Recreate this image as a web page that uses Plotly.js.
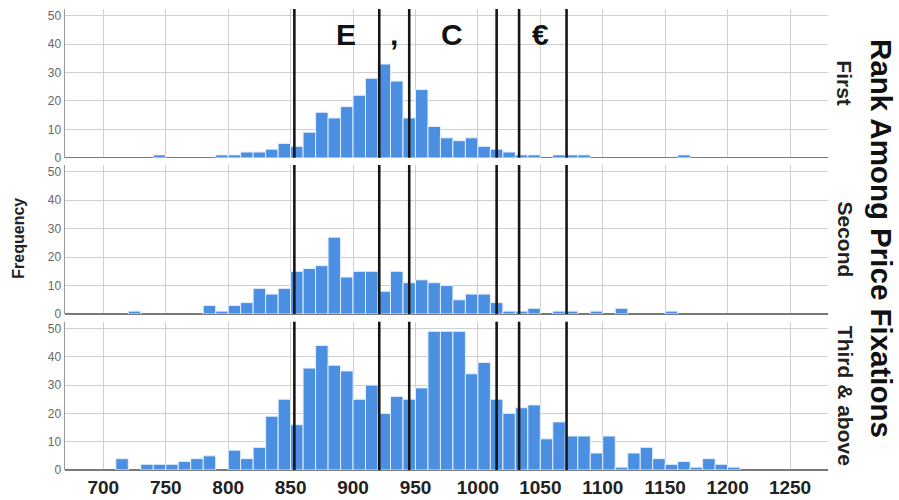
<!DOCTYPE html>
<html>
<head>
<meta charset="utf-8">
<script src="https://cdn.plot.ly/plotly-3.0.1.min.js"></script>
<style>html,body{margin:0;padding:0;background:#fff;}#chart{width:899px;height:500px;}</style>
</head>
<body>
<div id="chart"></div>
<script>
// Histogram bin lower edges (width 10)
const binStarts = [700,710,720,730,740,750,760,770,780,790,
  800,810,820,830,840,850,860,870,880,890,
  900,910,920,930,940,950,960,970,980,990,
  1000,1010,1020,1030,1040,1050,1060,1070,1080,1090,
  1100,1110,1120,1130,1140,1150,1160,1170,1180,1190,
  1200,1210];
const binWidth = 10;

// Frequencies per panel
const firstCounts = [0,0,0,0,1,0,0,0,0,1,
  1,2,2,3,5,4,9,16,14,18,
  22,28,33,27,14,24,11,7,6,7,
  4,3,2,1,1,0,1,1,1,0,
  0,0,0,0,0,0,1,0,0,0,
  0,0];
const secondCounts = [0,0,1,0,0,0,0,0,3,1,
  3,4,9,7,9,15,16,17,27,13,
  15,15,8,15,11,12,11,10,5,7,
  7,4,1,1,2,0,1,1,0,1,
  0,2,0,0,0,1,0,0,0,0,
  0,0];
const thirdCounts = [0,4,0,2,2,2,3,4,5,0,
  7,4,8,19,25,16,36,44,37,35,
  25,30,20,26,25,29,49,49,49,34,
  38,25,20,22,23,11,17,12,12,6,
  12,1,6,8,4,2,3,1,4,2,
  1,0];

const panelNames = ["First", "Second", "Third & above"];
const xTickVals = [700,750,800,850,900,950,1000,1050,1100,1150,1200,1250];
const yTickVals = [0,10,20,30,40,50];

// Reference lines (price character boundaries) and the characters between them
const boundaryLines = [853, 921, 945, 1015, 1033, 1071];
const letters = ["E", ",", "C", "€"];
const letterPos = [894, 933, 979, 1050];

const FONT = "Liberation Sans, Arial, sans-serif";
const barColor = "#4b8fe2";
const allCounts = [firstCounts, secondCounts, thirdCounts];
const domains = [[0.6774, 1], [0.3384, 0.6616], [0, 0.3217]];
const axIds = ["", "2", "3"];

const centers = binStarts.map(b => b + binWidth / 2);

const traces = allCounts.map((counts, i) => ({
  type: "bar",
  x: centers,
  y: counts.map(c => (c === 0 ? null : c)),
  width: binStarts.map(() => binWidth),
  xaxis: "x" + axIds[i],
  yaxis: "y" + axIds[i],
  marker: {color: barColor, line: {color: "rgba(230,240,252,0.95)", width: 1}},
  hoverinfo: "x+y",
  showlegend: false
}));

const layout = {
  width: 899, height: 500,
  margin: {l: 65, r: 71, t: 9, b: 30},
  paper_bgcolor: "#fff", plot_bgcolor: "#fff",
  bargap: 0,
  font: {family: FONT, color: "#222"},
  shapes: [],
  annotations: []
};

for (let i = 0; i < 3; i++) {
  const id = axIds[i];
  layout["xaxis" + id] = {
    anchor: "y" + id,
    domain: [0, 1],
    range: [669.3, 1280.4],
    tickvals: xTickVals,
    ticktext: xTickVals.map(String),
    showticklabels: i === 2,
    ticks: "",
    ticklabelstandoff: 4,
    showgrid: true, gridcolor: "#cfcfcf", gridwidth: 1,
    zeroline: false,
    showline: false,
    tickfont: {family: FONT, size: 19, color: "#222", weight: "bold"},
    matches: i === 0 ? undefined : "x"
  };
  layout["yaxis" + id] = {
    anchor: "x" + id,
    domain: domains[i],
    range: [0, 52.4],
    tickvals: yTickVals,
    ticks: "",
    showgrid: true, gridcolor: "#cfcfcf", gridwidth: 1,
    zeroline: true, zerolinecolor: "#7a7a7a", zerolinewidth: 1.5,
    showline: true, linecolor: "#9a9a9a", linewidth: 1.5,
    tickfont: {family: FONT, size: 12, color: "#666"}
  };
  boundaryLines.forEach(v => {
    layout.shapes.push({
      type: "line", xref: "x" + id, yref: "y" + id + " domain",
      x0: v, x1: v, y0: 0, y1: 1,
      line: {color: "#161616", width: 2.6}, layer: "above"
    });
  });
  layout.annotations.push({
    text: panelNames[i], textangle: 90,
    xref: "paper", x: 1.0223, xanchor: "center",
    yref: "y" + id + " domain", y: 0.5, yanchor: "middle",
    showarrow: false,
    font: {family: FONT, size: 21, color: "#222", weight: "bold"}
  });
}

letters.forEach((t, k) => {
  layout.annotations.push({
    text: t, xref: "x", x: letterPos[k], xanchor: "center",
    yref: "y domain", y: 0.83, yanchor: "middle",
    showarrow: false,
    font: {family: FONT, size: 30, color: "#111", weight: "bold"}
  });
});

layout.annotations.push({
  text: "Rank Among Price Fixations", textangle: 90,
  xref: "paper", x: 1.0708, xanchor: "center",
  yref: "paper", y: 0.503, yanchor: "middle",
  showarrow: false,
  font: {family: FONT, size: 29.5, color: "#111", weight: "bold"}
});
layout.annotations.push({
  text: "Frequency", textangle: -90,
  xref: "paper", x: -0.0609, xanchor: "center",
  yref: "paper", y: 0.503, yanchor: "middle",
  showarrow: false,
  font: {family: FONT, size: 16, color: "#222", weight: "bold"}
});

Plotly.newPlot("chart", traces, layout, {displayModeBar: false, staticPlot: true});
</script>
</body>
</html>
